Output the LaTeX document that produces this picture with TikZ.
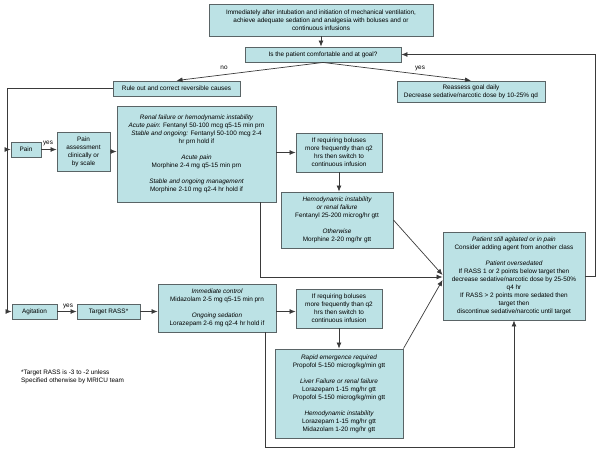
\documentclass[tikz,border=0pt]{standalone}
\usepackage{fontspec}
\setmainfont{Liberation Sans}
\usetikzlibrary{arrows.meta,calc}
\definecolor{boxfill}{HTML}{BCE2E5}
\definecolor{boxline}{HTML}{5A6466}
\definecolor{conn}{HTML}{3A3A3A}
\tikzset{
  box/.style={draw=boxline, fill=boxfill, line width=0.9pt, inner sep=1pt, align=center,
    font=\fontsize{6.4}{8}\selectfont},
  arr/.style={draw=conn, line width=0.7pt, -{Latex[length=6pt,width=5pt]}},
  lbl/.style={font=\fontsize{6.4}{8}\selectfont, inner sep=0pt},
}
\begin{document}
\begin{tikzpicture}[x=1pt,y=-1pt]
\useasboundingbox (0,0) rectangle (600,451);

% boxes
\node[box, minimum width=224pt, minimum height=32pt] (top) at (321,20)
  {Immediately after intubation and initiation of mechanical ventilation,\\
   achieve adequate sedation and analgesia with boluses and or\\
   continuous infusions};
\node[box, minimum width=156pt, minimum height=15pt] (q) at (323,54.5)
  {Is the patient comfortable and at goal?};
\node[box, minimum width=127pt, minimum height=15pt] (rule) at (176.5,88.5)
  {Rule out and correct reversible causes};
\node[box, minimum width=148pt, minimum height=21pt] (reas) at (471,91.5)
  {Reassess goal daily\\ Decrease sedative/narcotic dose by 10-25\% qd};

\node[box, minimum width=30pt, minimum height=15pt] (pain) at (26,149.5) {Pain};
\node[box, minimum width=53pt, minimum height=39pt] (pass) at (83.5,151.5)
  {Pain\\ assessment\\ clinically or\\ by scale};
\node[box, minimum width=159pt, minimum height=96pt] (renal) at (196.5,154)
  {{\itshape Renal failure or hemodynamic instability}\\
   {\itshape Acute pain}: Fentanyl 50-100 mcg q5-15 min prn\\
   {\itshape Stable and ongoing:} Fentanyl 50-100 mcg 2-4\\
   hr prn hold if\\[8pt]
   {\itshape Acute pain}\\
   Morphine 2-4 mg q5-15 min prn\\[8pt]
   {\itshape Stable and ongoing management}\\
   Morphine 2-10 mg q2-4 hr hold if};
\node[box, minimum width=86pt, minimum height=39pt] (ifa) at (339,152.5)
  {If requiring boluses\\ more frequently than q2\\ hrs then switch to\\ continuous infusion};
\node[box, minimum width=112pt, minimum height=56pt] (hemo) at (337,220)
  {{\itshape Hemodynamic instability}\\
   {\itshape or renal failure}\\
   Fentanyl 25-200 microg/hr gtt\\[8pt]
   {\itshape Otherwise}\\
   Morphine 2-20 mg/hr gtt};
\node[box, minimum width=142pt, minimum height=88pt] (pat) at (514,276)
  {{\itshape Patient still agitated or in pain}\\
   Consider adding agent from another class\\[8pt]
   {\itshape Patient oversedated}\\
   If RASS 1 or 2 points below target then\\
   decrease sedative/narcotic dose by 25-50\%\\
   q4 hr\\
   If RASS > 2 points more sedated then\\
   target then\\
   discontinue sedative/narcotic until target};

\node[box, minimum width=45pt, minimum height=15pt] (agit) at (34.5,311.5) {Agitation};
\node[box, minimum width=63pt, minimum height=15pt] (targ) at (108.5,311.5)
  {Target RASS*};
\node[box, minimum width=118pt, minimum height=48pt] (imm) at (217,308)
  {{\itshape Immediate control}\\
   Midazolam 2-5 mg q5-15 min prn\\[8pt]
   {\itshape Ongoing sedation}\\
   Lorazepam 2-6 mg q2-4 hr hold if};
\node[box, minimum width=86pt, minimum height=39pt] (ifb) at (339,308.5)
  {If requiring boluses\\ more frequently than q2\\ hrs then switch to\\ continuous infusion};
\node[box, minimum width=128pt, minimum height=89pt] (rapid) at (339,393.5)
  {{\itshape Rapid emergence required}\\
   Propofol 5-150 microg/kg/min gtt\\[8pt]
   {\itshape Liver Failure or renal failure}\\
   Lorazepam 1-15 mg/hr gtt\\
   Propofol 5-150 microg/kg/min gtt\\[8pt]
   {\itshape Hemodynamic instability}\\
   Lorazepam 1-15 mg/hr gtt\\
   Midazolam 1-20 mg/hr gtt};

\node[lbl, align=left, anchor=west] (foot) at (21,377)
  {*Target RASS is -3 to -2 unless\\ Specified otherwise by MRICU team};

% labels
\node[lbl] (lno) at (224,68) {no};
\node[lbl] (lyes) at (420,68) {yes};
\node[lbl] (lyp) at (48,143) {yes};
\node[lbl] (lya) at (68,306.5) {yes};

% coordinates
\coordinate (lft) at (7,88.5);
\coordinate (rtop) at (595,54.5);
\coordinate (botR) at (514,447);

% connectors
\draw[arr] (top.south) -- (top.south |- q.north);
\draw[arr] (q.south) -- (rule.north);
\draw[arr] (q.south) -- (reas.north);
\draw[arr] (rule.west) -- (lft) |- (agit.west);
\draw[arr] (lft |- pain.west) -- (pain.west);
\draw[arr] (pain.east) -- (pass.west |- pain.east);
\draw[arr] (pass.east) -- (pass.east -| renal.west);
\draw[arr] (ifa.west -| renal.east) -- (ifa.west);
\draw[arr] (ifa.south) -- (ifa.south |- hemo.north);
\draw[arr] ([xshift=-16pt]renal.south east) |- ([yshift=-1pt]pat.west);
\draw[arr] (hemo.east) -- ([yshift=1pt]pat.west);
\draw[arr] (rapid.north east) -- ([yshift=-4pt]pat.west);
\draw[arr] (pat.east) -| (rtop) -- (q.east);

\draw[arr] (agit.east) -- (targ.west);
\draw[arr] (targ.east) -- (targ.east -| imm.west);
\draw[arr] (imm.east |- targ.east) -- (ifb.west |- targ.east);
\draw[arr] (ifb.south) -- (ifb.south |- rapid.north);
\draw[arr] ([xshift=-11pt]imm.south east) |- (botR) -- (pat.south);
\end{tikzpicture}
\end{document}
